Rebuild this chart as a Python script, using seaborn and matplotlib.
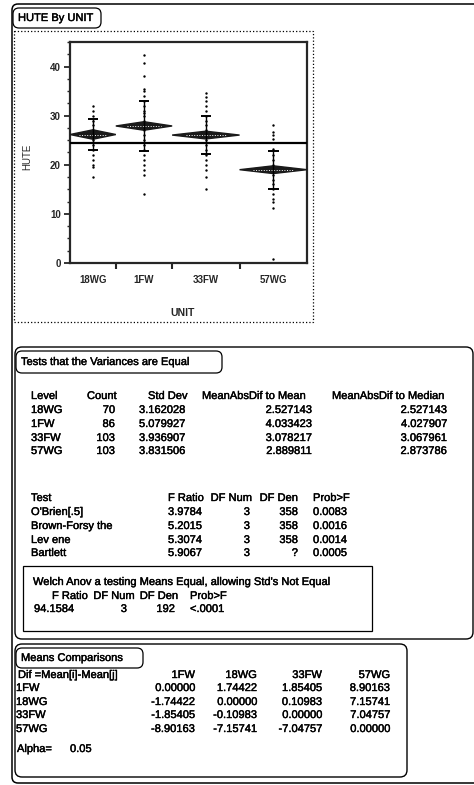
import numpy as np
import pandas as pd
import matplotlib.pyplot as plt
import matplotlib.patheffects as pe
import seaborn as sns
from matplotlib.patches import FancyBboxPatch, Rectangle

# --- data ---
units = ["18WG", "1FW", "33FW", "57WG"]
counts = [70, 86, 103, 103]
means = [26.16, 27.90, 26.05, 19.00]
std_devs = [3.162028, 5.079927, 3.936907, 3.831506]
ci_half = [0.96, 0.87, 0.79, 0.79]
grand_mean = 24.5

hute_18wg = [32, 31, 30, 29, 28, 27, 26.5, 26, 25.5, 25, 24, 23, 22, 21, 20, 19.5, 17.5]
hute_1fw = [42.4, 40.7, 38, 35.5, 35, 34, 33, 32, 31, 30.5, 30, 29, 28, 27, 26, 25, 24, 23,
            22, 21, 20, 19, 18, 14.1]
hute_33fw = [34.6, 33.8, 33, 32, 31, 30, 29, 28, 27, 26, 25, 24, 23, 22, 21, 20, 19, 17.5, 15]
hute_57wg = [28.2, 26.7, 26, 25.3, 23.3, 22, 21, 20, 19, 18, 17, 16, 15, 14, 13, 12.4, 11.3, 0.8]

std_dev_txt = ["3.162028", "5.079927", "3.936907", "3.831506"]
mad_mean = ["2.527143", "4.033423", "3.078217", "2.889811"]
mad_median = ["2.527143", "4.027907", "3.067961", "2.873786"]

tests = ["O'Brien[.5]", "Brown-Forsy the", "Lev ene", "Bartlett"]
f_ratio = ["3.9784", "5.2015", "5.3074", "5.9067"]
df_num = ["3", "3", "3", "3"]
df_den = ["358", "358", "358", "?"]
prob_f = ["0.0083", "0.0016", "0.0014", "0.0005"]

welch = ["94.1584", "3", "192", "<.0001"]

cmp_units = ["1FW", "18WG", "33FW", "57WG"]
cmp_vals = [["0.00000", "1.74422", "1.85405", "8.90163"],
            ["-1.74422", "0.00000", "0.10983", "7.15741"],
            ["-1.85405", "-0.10983", "0.00000", "7.04757"],
            ["-8.90163", "-7.15741", "-7.04757", "0.00000"]]
alpha = "0.05"

sns.set_style("ticks")
plt.rcParams['font.family'] = ['Liberation Sans', 'DejaVu Sans']

fig = plt.figure(figsize=(4.74, 7.85), dpi=100)

# background layer in pixel coordinates for the report frames and tables
bg = fig.add_axes([0, 0, 1, 1])
bg.set_xlim(0, 474)
bg.set_ylim(785, 0)
bg.axis('off')

heavy = [pe.withStroke(linewidth=0.3, foreground='black')]

def rbox(x0, y0, x1, y1, r=6, lw=1.0, ls='-'):
    bg.add_patch(FancyBboxPatch((x0, y0), x1 - x0, y1 - y0,
                                boxstyle=f"round,pad=0,rounding_size={r}",
                                fill=False, ec='black', lw=lw, ls=ls))

def txt(x, y, s, ha='left', fs=8, **kw):
    bg.text(x, y, s, ha=ha, va='center', fontsize=fs, color='black',
            path_effects=heavy, **kw)

# outer report frame (right side runs off the page)
rbox(12, 4, 490, 783, r=6, lw=1.1)
rbox(13, 8, 101, 28, r=6, lw=0.9)
txt(18, 18, "HUTE By UNIT")
bg.add_patch(Rectangle((14, 31), 299, 291, fill=False, ec='black', lw=0.9, ls=':'))

# --- one-way plot ---
ax = fig.add_axes([70 / 474, 1 - 263 / 785, 237 / 474, 221 / 785])
bounds = np.concatenate([[0], np.cumsum(counts)])
centers = (bounds[:-1] + bounds[1:]) / 2

pts = pd.DataFrame({
    "UNIT": (["18WG"] * len(hute_18wg) + ["1FW"] * len(hute_1fw)
             + ["33FW"] * len(hute_33fw) + ["57WG"] * len(hute_57wg)),
    "HUTE": hute_18wg + hute_1fw + hute_33fw + hute_57wg,
})
pts["xpos"] = pts["UNIT"].map(dict(zip(units, centers)))
sns.scatterplot(data=pts, x="xpos", y="HUTE", ax=ax, color="black", s=3,
                linewidth=0, legend=False, zorder=2)

for i, u in enumerate(units):
    l, r, c, m = bounds[i], bounds[i + 1], centers[i], means[i]
    ax.fill([l, c, r, c], [m, m + ci_half[i], m, m - ci_half[i]],
            color="#1a1a1a", zorder=3)
    w = r - l
    ax.plot([l + 0.2 * w, r - 0.2 * w], [m, m], color="white", lw=0.7,
            ls=":", zorder=4)
    ax.vlines(c, m - std_devs[i], m + std_devs[i], color="black", lw=1.0, zorder=4)
    ax.hlines([m - std_devs[i], m + std_devs[i]], c - 8, c + 8, color="black",
              lw=1.4, zorder=4)

ax.axhline(grand_mean, color="black", lw=1.6, zorder=5)

ax.set_xlim(0, bounds[-1])
ax.set_ylim(0, 45)
ax.set_xticks(centers)
ax.set_xticklabels(units, fontsize=7, fontweight="bold")
ax.set_xticks(bounds[1:-1], minor=True)
ax.tick_params(axis="x", which="major", length=0, pad=9)
ax.tick_params(axis="x", which="minor", length=4, width=1.5, direction="out")
ax.set_yticks([0, 10, 20, 30, 40])
ax.set_yticks(np.arange(0, 45.1, 2.5), minor=True)
ax.tick_params(axis="y", which="major", length=4, width=1.3, pad=2.5, labelsize=7)
ax.tick_params(axis="y", which="minor", length=2.5, width=1.0)
for t in ax.get_yticklabels():
    t.set_fontweight("bold")
for sp in ax.spines.values():
    sp.set_visible(True)
    sp.set_linewidth(1.6)
ax.set_xlabel("UNIT", fontsize=7.5, fontweight="bold")
ax.set_ylabel("HUTE", fontsize=7)
ax.xaxis.set_label_coords((183 - 70) / 237, (263 - 308) / 221)
ax.yaxis.set_label_coords((32 - 70) / 237, (263 - 157) / 221)

# --- Tests that the Variances are Equal ---
rbox(15, 347, 473, 639, r=7)
rbox(16, 351, 222, 373, r=6, lw=0.9)
txt(21, 362, "Tests that the Variances are Equal")

row_y = [410, 424, 438, 451]
txt(31, 396, "Level")
txt(117, 396, "Count", ha="right")
txt(148, 396, "Std Dev")
txt(202, 396, "MeanAbsDif to Mean")
txt(332, 396, "MeanAbsDif to Median")
for i, y in enumerate(row_y):
    txt(31, y, units[i])
    txt(115, y, str(counts[i]), ha="right")
    txt(139, y, std_dev_txt[i])
    txt(312, y, mad_mean[i], ha="right")
    txt(447, y, mad_median[i], ha="right")

test_y = [512, 526, 540, 553]
txt(31, 498, "Test")
txt(204, 498, "F Ratio", ha="right")
txt(252, 498, "DF Num", ha="right")
txt(298, 498, "DF Den", ha="right")
txt(313, 498, "Prob>F")
for i, y in enumerate(test_y):
    txt(31, y, tests[i])
    txt(168, y, f_ratio[i])
    txt(250, y, df_num[i], ha="right")
    txt(298, y, df_den[i], ha="right")
    txt(313, y, prob_f[i])

bg.add_patch(Rectangle((23, 566), 349, 65, fill=False, ec='black', lw=0.9))
txt(33, 582, "Welch Anov a testing Means Equal, allowing Std's Not Equal")
txt(70, 596, "F Ratio", ha="center")
txt(114, 596, "DF Num", ha="center")
txt(159, 596, "DF Den", ha="center")
txt(190, 596, "Prob>F")
txt(74, 609, welch[0], ha="right")
txt(127, 609, welch[1], ha="right")
txt(175, 609, welch[2], ha="right")
txt(190, 609, welch[3])

# --- Means Comparisons ---
rbox(15, 644, 407, 777, r=7)
rbox(16, 648, 143, 668, r=6, lw=0.9)
txt(21, 658, "Means Comparisons")
txt(18, 675, "Dif =Mean[i]-Mean[j]")
col_r = [195, 257, 322, 390]
for j, u in enumerate(cmp_units):
    txt(col_r[j], 675, u, ha="right")
cmp_y = [688, 702, 715, 729]
for i, y in enumerate(cmp_y):
    txt(16, y, cmp_units[i])
    for j in range(4):
        txt(col_r[j], y, cmp_vals[i][j], ha="right")
txt(17, 749, "Alpha=")
txt(70, 749, alpha)

fig.savefig("out.png", dpi=100)
